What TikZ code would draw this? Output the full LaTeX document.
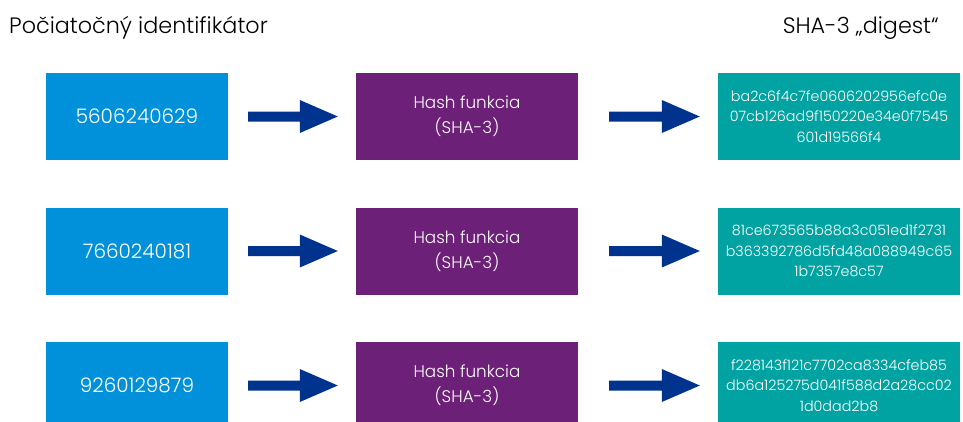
\documentclass[tikz,border=0pt]{standalone}
\usepackage{fontspec}
\setmainfont{Poppins Light}
\usetikzlibrary{calc}
\definecolor{idblue}{HTML}{0091DA}
\definecolor{hashpurple}{HTML}{6D2077}
\definecolor{digestteal}{HTML}{00A3A1}
\definecolor{arrowblue}{HTML}{00338D}
\tikzset{
  x=1pt, y=-1pt,
  box/.style={minimum height=87pt, inner sep=0pt, text=white, align=center},
  idbox/.style={box, fill=idblue, minimum width=182pt, font=\fontsize{20}{22}\selectfont},
  hashbox/.style={box, fill=hashpurple, minimum width=222pt, font=\fontsize{16.8}{25}\selectfont},
  digestbox/.style={box, fill=digestteal, minimum width=242pt, font=\fontsize{14.3}{20.5}\selectfont},
  heading/.style={inner sep=0pt, font=\fontsize{22.3}{25}\selectfont},
  flowarrow/.style={fill=arrowblue},
}
% block arrow: #3 gap after the source, #4 gap before the target;
% shaft 10pt thick, head 33pt tall and 38pt long
\newcommand{\blockarrow}[4]{%
  \path (#1.east) ++(#3,0) coordinate (s) (#2.west) ++(-#4,0) coordinate (t);
  \fill[flowarrow] ($(s)+(0,-5)$) -- ($(t)+(-38,-5)$) -- ($(t)+(-38,-16.5)$) -- (t)
    -- ($(t)+(-38,16.5)$) -- ($(t)+(-38,5)$) -- ($(s)+(0,5)$) -- cycle;}
\begin{document}
\begin{tikzpicture}
\useasboundingbox (0,0) rectangle (963,421);
\node[heading, anchor=west] (h1) at (9,28) {Počiatočný identifikátor};
\node[heading, anchor=east] (h2) at (939,28) {SHA-3 „digest“};

\foreach \r/\yy/\id/\dg in {
  1/116.5/5606240629/{ba2c6f4c7fe0606202956efc0e\\07cb126ad9f150220e34e0f7545\\601d19566f4},
  2/251/7660240181/{81ce673565b88a3c051ed1f2731\\b363392786d5fd48a088949c65\\1b7357e8c57},
  3/385.5/9260129879/{f228143f121c7702ca8334cfeb85\\db6a125275d041f588d2a28cc02\\1d0dad2b8}}{
  \node[idbox] (id\r) at (137,\yy) {\id};
  \node[hashbox] (hash\r) at (467,\yy) {Hash funkcia\\(SHA-3)};
  \node[digestbox] (dg\r) at (839,\yy) {\dg};
  \blockarrow{id\r}{hash\r}{20}{18}
  \blockarrow{hash\r}{dg\r}{31}{18}
}
\end{tikzpicture}
\end{document}
